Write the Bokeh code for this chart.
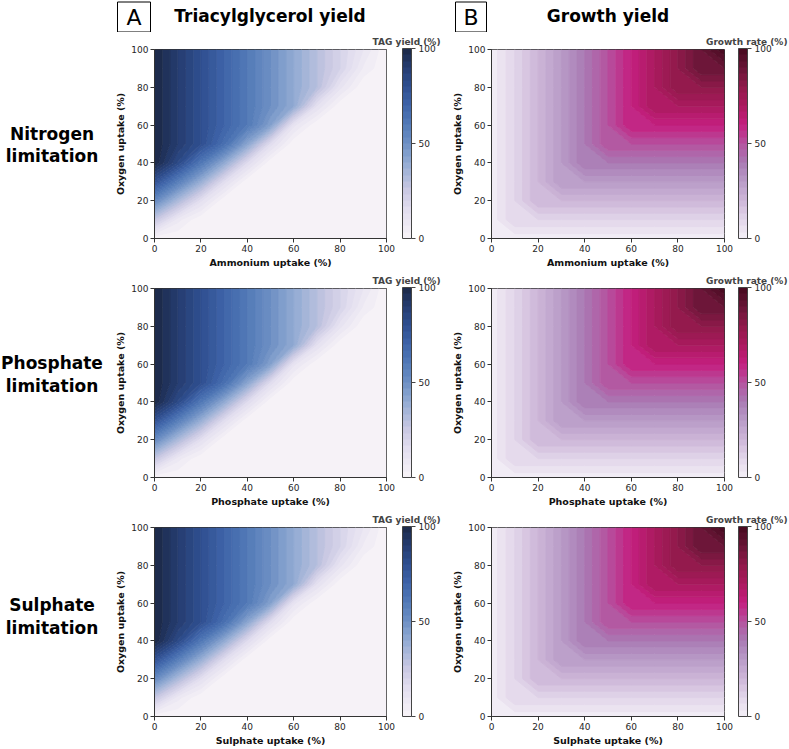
import numpy as np
from bokeh.plotting import figure
from bokeh.layouts import row, column
from bokeh.models import Range1d, ColorBar, LinearColorMapper, FixedTicker
from bokeh.embed import file_html
from bokeh.resources import INLINE
from bokeh.core.properties import value

# ---------------- data ----------------
UPTAKE = [0, 10, 20, 30, 40, 50, 60, 70, 80, 90, 100]   # nutrient uptake (%)
OXYGEN = [0, 10, 20, 30, 40, 50, 60, 70, 80, 90, 100]   # oxygen uptake (%)

# TAG yield (%): rows = oxygen uptake 0..100, columns = nutrient uptake 0..100
TAG_YIELD = [
    [0,   0,  0,  0,  0,  0,  0,  0,  0,  0, 0],
    [26,  8,  0,  0,  0,  0,  0,  0,  0,  0, 0],
    [53, 33, 14,  0,  0,  0,  0,  0,  0,  0, 0],
    [79, 58, 38, 15,  0,  0,  0,  0,  0,  0, 0],
    [100, 83, 61, 40, 16,  0,  0,  0,  0,  0, 0],
    [100, 90, 80, 65, 42, 15,  0,  0,  0,  0, 0],
    [100, 90, 80, 70, 60, 44, 11,  0,  0,  0, 0],
    [100, 90, 80, 70, 60, 50, 40, 13,  0,  0, 0],
    [100, 90, 80, 70, 60, 50, 40, 30, 11,  0, 0],
    [100, 90, 80, 70, 60, 50, 40, 30, 20,  6, 0],
    [100, 90, 80, 70, 60, 50, 40, 30, 20, 10, 0],
]

# Growth rate (%): rows = oxygen uptake 0..100, columns = nutrient uptake 0..100
GROWTH_RATE = [
    [1,  1,  1,  1,  1,  1,  1,  1,  1,  1,   1],
    [1, 10, 10, 10, 10, 10, 10, 10, 10, 10,  10],
    [1, 10, 20, 20, 20, 20, 20, 20, 20, 20,  20],
    [1, 10, 20, 30, 30, 30, 30, 30, 30, 30,  30],
    [1, 10, 20, 30, 40, 40, 40, 40, 40, 40,  40],
    [1, 10, 20, 30, 40, 50, 50, 50, 50, 50,  50],
    [1, 10, 20, 30, 40, 50, 60, 60, 60, 60,  60],
    [1, 10, 20, 30, 40, 50, 60, 70, 70, 70,  70],
    [1, 10, 20, 30, 40, 50, 60, 70, 80, 80,  80],
    [1, 10, 20, 30, 40, 50, 60, 70, 80, 90,  90],
    [1, 10, 20, 30, 40, 50, 60, 70, 80, 90, 100],
]

ROW_LABELS = [("Nitrogen", "limitation"), ("Phosphate", "limitation"), ("Sulphate", "limitation")]
X_LABELS = ["Ammonium uptake (%)", "Phosphate uptake (%)", "Sulphate uptake (%)"]
Y_LABEL = "Oxygen uptake (%)"
AXIS_TICKS = [0, 20, 40, 60, 80, 100]
CBAR_TICKS = [0, 50, 100]
PANEL_TITLES = ["Triacylglycerol yield", "Growth yield"]
PANEL_LETTERS = ["A", "B"]
CBAR_TITLES = ["TAG yield (%)", "Growth rate (%)"]

# ---------------- colours ----------------
TAG_ANCHORS = [(0.0, "#f8f4f8"), (0.15, "#e2deef"), (0.25, "#cac9e3"), (0.40, "#92abd3"),
               (0.50, "#6e90c4"), (0.60, "#527ab7"), (0.70, "#3f64a9"), (0.80, "#2f4f90"),
               (0.90, "#253c70"), (1.0, "#1b2745")]
GROWTH_ANCHORS = [(0.0, "#f4f0f7"), (0.10, "#e2d6ea"), (0.20, "#cdb6d8"), (0.30, "#b99cc7"),
                  (0.40, "#a97ab4"), (0.50, "#b5529f"), (0.60, "#c41f80"), (0.70, "#ab1a5e"),
                  (0.80, "#8f1a4a"), (0.90, "#661535"), (1.0, "#45091e")]
N_BANDS = 30


def ramp(anchors, n):
    pos = [a[0] for a in anchors]
    rgb = np.array([[int(c[i:i + 2], 16) for i in (1, 3, 5)] for _, c in anchors], float)
    out = []
    for k in range(n):
        t = (k + 0.5) / n
        r, g, b = (np.interp(t, pos, rgb[:, j]) for j in range(3))
        out.append("#%02x%02x%02x" % (int(round(r)), int(round(g)), int(round(b))))
    return out


TAG_PAL = ramp(TAG_ANCHORS, N_BANDS)
GROWTH_PAL = ramp(GROWTH_ANCHORS, N_BANDS)
LEVELS = list(np.linspace(0, 100, N_BANDS + 1))
LEVELS[0] = -1.0
LEVELS[-1] = 101.0

FONT = "DejaVu Sans"
HDR_H = 32
ROW_HS = [239, 239, 239]
TOP_B = 16
FRAME_H = 190
FRAME_W = 233


def panel(grid, pal, xlabel, cbtitle, width, height, left, right, gap, title_offset):
    p = figure(width=width, height=height, x_range=Range1d(0, 100), y_range=Range1d(0, 100),
               output_backend="svg", toolbar_location=None, title=cbtitle,
               min_border_left=left, min_border_right=right,
               min_border_top=TOP_B, min_border_bottom=height - TOP_B - FRAME_H)
    p.background_fill_color = pal[0]
    line_cols = [pal[min(k, len(pal) - 1)] for k in range(len(LEVELS))]
    p.contour(UPTAKE, OXYGEN, np.array(grid, float), LEVELS, fill_color=pal,
              line_color=line_cols, line_width=1)
    p.grid.visible = False
    p.outline_line_color = "#333333"
    p.title.align = "right"
    p.title.offset = title_offset
    p.title.standoff = 5
    p.title.text_font = FONT
    p.title.text_font_size = "9px"
    p.title.text_font_style = "bold"
    p.xaxis.axis_label = xlabel
    p.yaxis.axis_label = Y_LABEL
    for ax in (p.xaxis[0], p.yaxis[0]):
        ax.ticker = FixedTicker(ticks=AXIS_TICKS)
        ax.major_label_text_font = FONT
        ax.major_label_text_font_size = "9px"
        ax.major_label_text_color = "#262626"
        ax.axis_label_text_font = FONT
        ax.axis_label_text_font_style = "bold"
        ax.axis_label_text_font_size = "9.5px"
        ax.axis_label_text_color = "#111111"
        ax.major_tick_out = 4
        ax.major_tick_in = 0
        ax.minor_tick_out = 0
        ax.minor_tick_in = 0
        ax.axis_line_color = "#333333"
        ax.major_tick_line_color = "#333333"
        ax.major_label_standoff = 2
        ax.axis_label_standoff = 2
    cb = ColorBar(color_mapper=LinearColorMapper(palette=pal, low=0, high=100),
                  ticker=FixedTicker(ticks=CBAR_TICKS), width=9, height=FRAME_H,
                  location=(FRAME_W + gap, 0), padding=0, margin=0,
                  bar_line_color="#444444", major_tick_line_color="#444444",
                  major_tick_out=4, major_tick_in=0, minor_tick_out=0, minor_tick_in=0,
                  major_label_text_font=FONT, major_label_text_font_size="9px",
                  major_label_text_color="#262626", label_standoff=3,
                  border_line_color=None, background_fill_alpha=0)
    p.add_layout(cb, "center")
    return p


rows = []
for i in range(3):
    t = panel(TAG_YIELD, TAG_PAL, X_LABELS[i], CBAR_TITLES[0], 336, ROW_HS[i], 41, 62, 15, -54)
    g = panel(GROWTH_RATE, GROWTH_PAL, X_LABELS[i], CBAR_TITLES[1], 341, ROW_HS[i], 43, 65, 14, -63)
    rows.append(row(t, g, spacing=0))

# header with panel letters and titles (page pixel coordinates)
hdr = figure(width=677, height=HDR_H, x_range=Range1d(112, 789), y_range=Range1d(HDR_H, 0),
             output_backend="svg", toolbar_location=None, min_border=0,
             x_axis_location=None, y_axis_location=None, outline_line_color=None)
hdr.grid.visible = False
hdr.quad(left=[117, 455], right=[150, 486], top=[1.5, 1.5], bottom=[31.5, 31.5],
         fill_color=None, line_color="black", line_width=1)
hdr.text(x=[133.5, 470.5], y=[17, 17], text=PANEL_LETTERS, text_align="center",
         text_baseline="middle", text_font=value(FONT), text_font_size="22px", text_color="black")
hdr.text(x=[269.5, 607.5], y=[15, 15], text=PANEL_TITLES, text_align="center",
         text_baseline="middle", text_font=value(FONT), text_font_size="17px",
         text_font_style="bold", text_color="black")

# row labels (page pixel coordinates)
total_h = HDR_H + sum(ROW_HS)
lab = figure(width=112, height=total_h, x_range=Range1d(0, 112), y_range=Range1d(total_h, 0),
             output_backend="svg", toolbar_location=None, min_border=0,
             x_axis_location=None, y_axis_location=None, outline_line_color=None)
lab.grid.visible = False
label_y = [133, 155, 362, 385, 604, 627]
lab.text(x=[51.5] * 6, y=label_y,
         text=[w for pair in ROW_LABELS for w in pair],
         text_align="center", text_baseline="middle", text_font=value(FONT),
         text_font_size="17px", text_font_style="bold", text_color="black")

layout = row(lab, column(hdr, *rows, spacing=0), spacing=0)
open("out.html", "w").write(file_html(layout, INLINE))
